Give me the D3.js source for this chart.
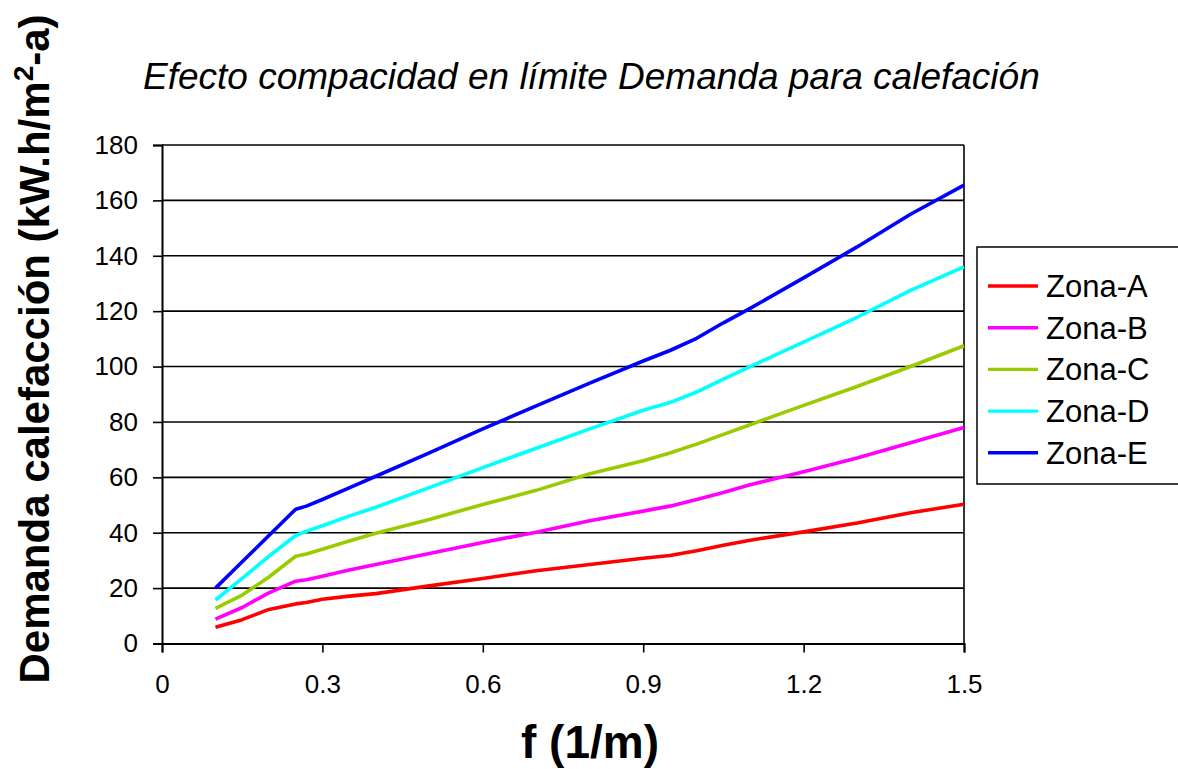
<!DOCTYPE html>
<html lang="es">
<head>
<meta charset="UTF-8">
<title>Efecto compacidad en límite Demanda para calefación</title>
<script src="https://d3js.org/d3.v7.min.js"></script>
<style>
  body { margin: 0; background: #fff; }
  svg { display: block; font-family: "Liberation Sans", Arial, sans-serif; }
</style>
</head>
<body>
<div id="chart"></div>
<script>
// valores
const fValues = [0.1, 0.15, 0.2, 0.25, 0.27, 0.3, 0.35, 0.4, 0.5, 0.6, 0.7, 0.8, 0.9, 0.95, 1.0, 1.05, 1.1, 1.2, 1.3, 1.4, 1.5];
const zonaA = [5.9, 8.6, 12.3, 14.3, 14.8, 16.0, 17.1, 18.0, 20.8, 23.5, 26.3, 28.5, 30.8, 31.8, 33.5, 35.5, 37.3, 40.3, 43.5, 47.2, 50.3];
const zonaB = [8.8, 13.0, 18.3, 22.5, 23.0, 24.3, 26.5, 28.5, 32.5, 36.5, 40.2, 44.3, 47.8, 49.6, 52.0, 54.5, 57.3, 62.0, 67.0, 72.5, 78.0];
const zonaC = [12.7, 17.5, 24.0, 31.5, 32.3, 34.0, 37.0, 39.8, 44.8, 50.2, 55.3, 61.3, 66.0, 68.8, 72.0, 75.5, 79.0, 86.0, 92.8, 100.0, 107.5];
const zonaD = [15.7, 23.5, 31.5, 39.0, 40.5, 42.5, 46.0, 49.2, 56.3, 63.5, 70.5, 77.5, 84.2, 87.0, 90.8, 95.5, 100.0, 108.8, 117.8, 127.5, 136.0];
const zonaE = [20.0, 29.5, 39.0, 48.5, 49.6, 52.0, 56.2, 60.4, 68.8, 77.5, 85.8, 94.0, 102.0, 105.8, 110.2, 115.8, 121.0, 132.0, 143.2, 155.0, 165.5];
const seriesNames = ["Zona-A", "Zona-B", "Zona-C", "Zona-D", "Zona-E"];
const seriesColors = ["#ff0000", "#ff00ff", "#99cc00", "#00ffff", "#0000ff"];
const xTicks = [0, 0.3, 0.6, 0.9, 1.2, 1.5];
const yTicks = [0, 20, 40, 60, 80, 100, 120, 140, 160, 180];

const W = 1178, H = 769;
const plot = { left: 162, right: 964, top: 145, bottom: 643.5 };

const series = [zonaA, zonaB, zonaC, zonaD, zonaE].map((vals, i) => ({
  name: seriesNames[i],
  color: seriesColors[i],
  points: vals.map((v, j) => ({ f: fValues[j], v: v }))
}));

const svg = d3.select("#chart").append("svg")
  .attr("width", W).attr("height", H);

const x = d3.scaleLinear().domain([0, 1.5]).range([plot.left, plot.right]);
const y = d3.scaleLinear().domain([0, 180]).range([plot.bottom, plot.top]);

// líneas de división
svg.append("g")
  .selectAll("line")
  .data(yTicks.filter(d => d > 0))
  .join("line")
  .attr("x1", plot.left).attr("x2", plot.right)
  .attr("y1", d => y(d)).attr("y2", d => y(d))
  .attr("stroke", "#000").attr("stroke-width", 1.6);

// borde derecho
svg.append("line")
  .attr("x1", plot.right).attr("x2", plot.right)
  .attr("y1", plot.top).attr("y2", plot.bottom)
  .attr("stroke", "#000").attr("stroke-width", 1.6);

// eje Y
const yAxis = svg.append("g")
  .attr("transform", `translate(${plot.left},0)`)
  .call(d3.axisLeft(y).tickValues(yTicks).tickSize(9).tickPadding(15).tickFormat(d3.format("d")));
yAxis.select(".domain").attr("stroke-width", 2);
yAxis.selectAll(".tick line").attr("stroke-width", 1.6);
yAxis.selectAll("text").attr("font-size", 26).attr("fill", "#000")
  .attr("font-family", "Liberation Sans, Arial, sans-serif");

// eje X
const xAxis = svg.append("g")
  .attr("transform", `translate(0,${plot.bottom})`)
  .call(d3.axisBottom(x).tickValues(xTicks).tickSize(9).tickPadding(22).tickFormat(d => d === 0 ? "0" : d3.format(".1f")(d)));
xAxis.select(".domain").attr("stroke-width", 2);
xAxis.selectAll(".tick line").attr("stroke-width", 1.6);
xAxis.selectAll("text").attr("font-size", 26).attr("fill", "#000")
  .attr("font-family", "Liberation Sans, Arial, sans-serif");

// series
const line = d3.line().x(d => x(d.f)).y(d => y(d.v));
svg.append("g")
  .selectAll("path")
  .data(series)
  .join("path")
  .attr("d", d => line(d.points))
  .attr("fill", "none")
  .attr("stroke", d => d.color)
  .attr("stroke-width", 3.6)
  .attr("stroke-linejoin", "round");

// título
svg.append("text")
  .attr("x", 143).attr("y", 89)
  .attr("font-size", 37).attr("font-style", "italic")
  .text("Efecto compacidad en límite Demanda para calefación");

// título eje X
svg.append("text")
  .attr("x", 590).attr("y", 758)
  .attr("text-anchor", "middle")
  .attr("font-size", 46).attr("font-weight", "bold")
  .text("f (1/m)");

// título eje Y
const yLabel = svg.append("text")
  .attr("transform", "translate(49,349) rotate(-90)")
  .attr("text-anchor", "middle")
  .attr("font-size", 42).attr("font-weight", "bold");
yLabel.append("tspan").text("Demanda calefacción (kW.h/m");
yLabel.append("tspan").attr("font-size", 28).attr("dy", -16).text("2");
yLabel.append("tspan").attr("dy", 16).text("-a)");

// leyenda
const legend = svg.append("g");
legend.append("rect")
  .attr("x", 977).attr("y", 247)
  .attr("width", 220).attr("height", 237)
  .attr("fill", "#fff").attr("stroke", "#000").attr("stroke-width", 1.5);
const items = legend.selectAll("g.item")
  .data(series)
  .join("g")
  .attr("class", "item")
  .attr("transform", (d, i) => `translate(0,${286 + i * 41.7})`);
items.append("line")
  .attr("x1", 988).attr("x2", 1038)
  .attr("stroke", d => d.color).attr("stroke-width", 3.4);
items.append("text")
  .attr("x", 1046).attr("y", 11)
  .attr("font-size", 31)
  .text(d => d.name);
</script>
</body>
</html>
